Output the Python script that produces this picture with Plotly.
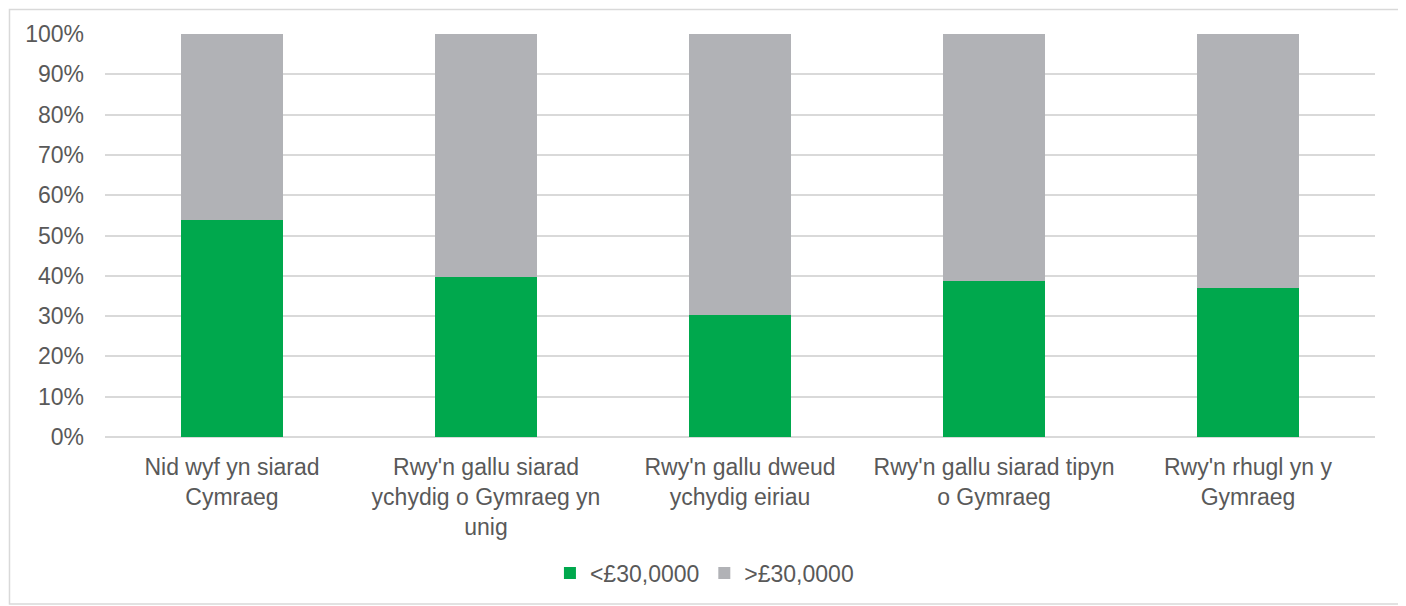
import plotly.graph_objects as go

# Daten
categories = [
    "Nid wyf yn siarad<br>Cymraeg",
    "Rwy'n gallu siarad<br>ychydig o Gymraeg yn<br>unig",
    "Rwy'n gallu dweud<br>ychydig eiriau",
    "Rwy'n gallu siarad tipyn<br>o Gymraeg",
    "Rwy'n rhugl yn y<br>Gymraeg",
]
below_30k = [0.538, 0.398, 0.303, 0.387, 0.369]
above_30k = [0.462, 0.602, 0.697, 0.613, 0.631]
y_ticks = [0, 0.1, 0.2, 0.3, 0.4, 0.5, 0.6, 0.7, 0.8, 0.9, 1.0]

GREEN = "#00A84D"
GREY = "#B1B2B6"
TEXT = "#595959"
GRID = "#D9D9D9"
FONT = "Liberation Sans, Arial, sans-serif"

fig = go.Figure()
fig.add_trace(go.Bar(
    x=categories, y=below_30k, name="<£30,0000",
    marker=dict(color=GREEN, line=dict(width=0)),
))
fig.add_trace(go.Bar(
    x=categories, y=above_30k, name=">£30,0000",
    marker=dict(color=GREY, line=dict(width=0)),
))

# Seite hat 8px Body-Rand, daher Raender entsprechend verschoben
fig.update_layout(
    barmode="stack",
    bargap=0.6,
    width=1406,
    height=606,
    paper_bgcolor="white",
    plot_bgcolor="white",
    font=dict(family=FONT, color=TEXT, size=23),
    margin=dict(l=97, r=39, t=26, b=177),
    xaxis=dict(showgrid=False, showline=False, ticks="", ticklabelstandoff=14,
               tickfont=dict(size=23)),
    yaxis=dict(
        range=[0, 1.0], tickvals=y_ticks, tickformat=".0%",
        gridcolor=GRID, gridwidth=1.5, zeroline=True, zerolinecolor=GRID,
        zerolinewidth=1.5, ticks="", ticklabelstandoff=20, tickfont=dict(size=23),
    ),
    legend=dict(
        orientation="h", x=0.472, xanchor="center", y=-0.3375, yanchor="middle",
        font=dict(size=23), traceorder="normal", itemwidth=30,
    ),
    shapes=[dict(
        type="rect", xref="paper", yref="paper",
        x0=-0.0752, x1=1.0213, y0=-0.4144, y1=1.061,
        line=dict(color=GRID, width=1.5), layer="below",
    )],
)

fig.write_html("out.html")
